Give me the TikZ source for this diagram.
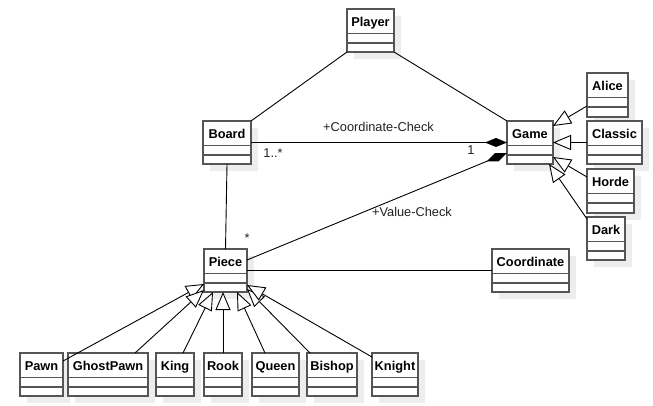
\documentclass[tikz,border=0pt]{standalone}
\usepackage{fontspec}
\setmainfont{Liberation Sans}
\usetikzlibrary{arrows.meta,calc}
\definecolor{boxline}{HTML}{555555}
\definecolor{shadowc}{HTML}{EDEDED}
\definecolor{lblc}{HTML}{222222}
\tikzset{
  cls/.style={draw=boxline, fill=white, line width=1.4pt, rectangle, inner sep=0pt, outer sep=0pt, anchor=north west},
  comprt/.style={draw=boxline, line width=1.4pt},
  ttl/.style={font=\fontsize{12.8pt}{15pt}\selectfont\bfseries, anchor=base, inner sep=0pt},
  lbl/.style={font=\fontsize{12.8pt}{15pt}\selectfont, text=lblc, anchor=base, inner sep=0pt},
  assoc/.style={draw=black, line width=0.9pt},
  inh/.style={assoc, -{Triangle[length=18pt,width=15pt,fill=white]}},
  comp/.style={assoc, -{Diamond[length=22pt,width=9pt]}}
}
% name, x1, y1, x2, y2, title
\newcommand{\umlcls}[6]{%
  \fill[shadowc] (#2+7,#3+7) rectangle (#4+7,#5+7);
  \node[cls, minimum width=#4-#2, minimum height=#5-#3] (#1) at (#2,#3) {};
  \draw[comprt] ($(#1.north west)+(0pt,-24.5pt)$) -- ($(#1.north east)+(0pt,-24.5pt)$);
  \draw[comprt] ($(#1.north west)+(0pt,-34pt)$) -- ($(#1.north east)+(0pt,-34pt)$);
  \node[ttl] (#1t) at ($(#1.north)+(0pt,-17.5pt)$) {#6};
}
\begin{document}
\begin{tikzpicture}[x=1pt,y=-1pt]
\fill[white] (0,0) rectangle (653,406);
\useasboundingbox (0,0) rectangle (653,406);
\umlcls{player}{347}{9}{394}{52}{Player}
\umlcls{board}{203}{121}{251}{164}{Board}
\umlcls{game}{507}{121}{553}{164}{Game}
\umlcls{alice}{587}{73}{628}{117}{Alice}
\umlcls{classic}{587}{121}{642}{164}{Classic}
\umlcls{horde}{587}{169}{634}{213}{Horde}
\umlcls{dark}{587}{217}{625}{260}{Dark}
\umlcls{piece}{204}{249}{247}{292}{Piece}
\umlcls{coordinate}{492}{249}{569}{292}{Coordinate}
\umlcls{pawn}{20}{353}{63}{396}{Pawn}
\umlcls{ghost}{68}{353}{148}{396}{GhostPawn}
\umlcls{king}{156}{353}{194}{396}{King}
\umlcls{rook}{204}{353}{242}{396}{Rook}
\umlcls{queen}{252}{353}{299}{396}{Queen}
\umlcls{bishop}{307}{353}{357}{396}{Bishop}
\umlcls{knight}{372}{353}{418}{396}{Knight}
% associations
\draw[assoc] (player.south west) -- (board.north east);
\draw[assoc] (player.south east) -- (game.north west);
\draw[comp] (board.east) -- (game.west);
\draw[comp] ([yshift=10.5pt]piece.east) -- ([yshift=-10.5pt]game.west);
\draw[assoc] (board.south) -- (piece.north);
\draw[assoc] (piece.east) -- (coordinate.west);
% game variants
\draw[inh] ([yshift=-11pt]alice.west) -- ([yshift=16.5pt]game.east);
\draw[inh] (classic.west) -- (game.east);
\draw[inh] ([yshift=14pt]horde.west) -- ([yshift=-14.5pt]game.east);
\draw[inh] ([yshift=-2pt]dark.north west) -- ([xshift=-4pt]game.south east);
% pieces
\draw[inh] ([yshift=-8pt]pawn.north east) -- ([yshift=-13.5pt]piece.west);
\draw[inh] ([xshift=-13pt]ghost.north east) -- ([yshift=2pt]piece.south west);
\draw[inh] ([xshift=-11pt]king.north east) -- ([xshift=9pt]piece.south west);
\draw[inh] (rook.north) -- (rook.north |- piece.south);
\draw[inh] ([xshift=13pt]queen.north west) -- ([xshift=-10pt]piece.south east);
\draw[inh] ([xshift=3pt]bishop.north west) -- ([yshift=3pt]piece.south east);
\draw[inh] ([yshift=-4pt]knight.north west) -- ([yshift=-14.5pt]piece.east);
% labels
\node[lbl] (lcc) at (378.5,132) {+Coordinate-Check};
\node[lbl] (lm1) at (273,158) {1..*};
\node[lbl] (lm2) at (471,155) {1};
\node[lbl] (lvc) at (412,217) {+Value-Check};
\node[lbl] (lm3) at (247,243) {*};
\end{tikzpicture}
\end{document}
